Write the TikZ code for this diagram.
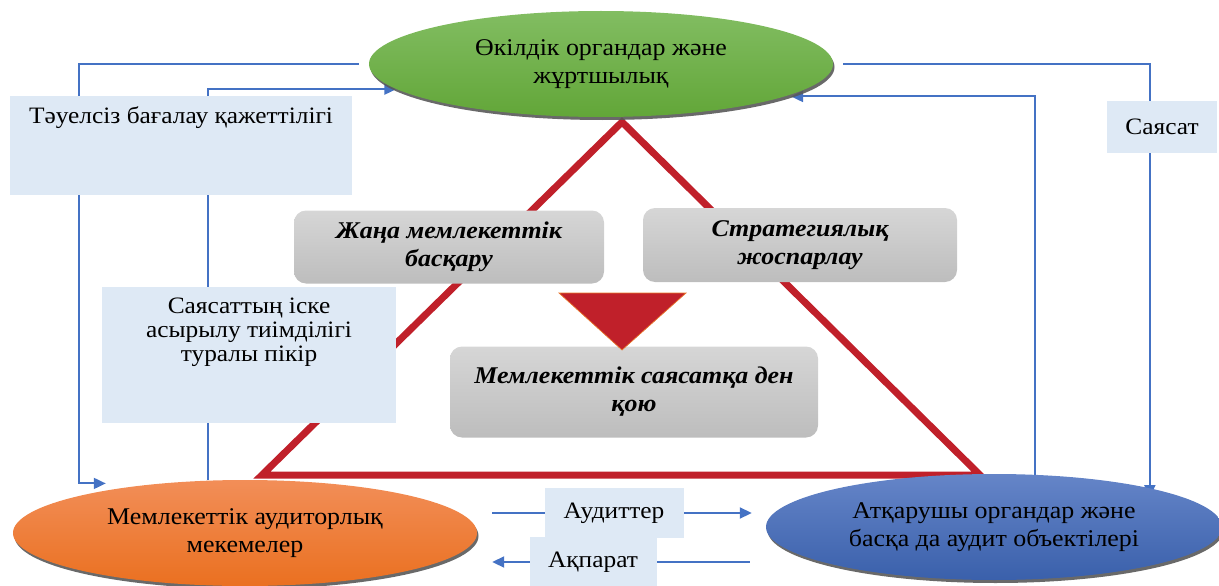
\documentclass[tikz,border=0pt]{standalone}
\usepackage{fontspec}
\setmainfont[FakeStretch=1.08]{Liberation Serif}
\usetikzlibrary{arrows.meta,positioning,calc,shapes.geometric,shadows,backgrounds}
\definecolor{linkblue}{HTML}{4472C4}
\definecolor{notebg}{HTML}{DEE9F5}
\definecolor{greentop}{HTML}{82BD62}
\definecolor{greenbot}{HTML}{62A638}
\definecolor{orangetop}{HTML}{F28E58}
\definecolor{orangebot}{HTML}{EA7020}
\definecolor{bluetop}{HTML}{6585C8}
\definecolor{bluebot}{HTML}{3A60AB}
\definecolor{paneltop}{HTML}{D6D6D6}
\definecolor{panelbot}{HTML}{BDBDBD}
\definecolor{redline}{HTML}{C0202A}
\definecolor{rededge}{HTML}{E8762B}

\begin{document}
\begin{tikzpicture}[x=1pt,y=-1pt,
  >={Triangle[length=12pt,width=11pt]},
  oval/.style={ellipse,minimum width=464pt,minimum height=106pt,align=center,
               font=\fontsize{24}{28.5}\selectfont,
               drop shadow={shadow xshift=1.5pt,shadow yshift=-3pt,fill=black!65,opacity=.9}},
  panel/.style={rounded corners=12pt,top color=paneltop,bottom color=panelbot,
                align=center,font=\fontsize{24}{28}\selectfont\bfseries\itshape},
  note/.style={fill=notebg,inner sep=0pt,align=center,font=\fontsize{23.5}{24}\selectfont},
  notetext/.style={inner sep=0pt,align=center,font=\fontsize{23.5}{24}\selectfont},
  link/.style={->,draw=linkblue,line width=1.9pt}
]
\useasboundingbox (0,0) rectangle (1219,586);

\node[oval,top color=greentop,bottom color=greenbot] (public) at (601,64) {Өкілдік органдар және\\жұртшылық};
\node[oval,top color=orangetop,bottom color=orangebot] (audit) at (245,533) {Мемлекеттік аудиторлық\\мекемелер};
\node[oval,top color=bluetop,bottom color=bluebot,minimum width=456pt] (exec) at (994,527) {Атқарушы органдар және\\басқа да аудит объектілері};

\node[panel,minimum width=310pt,minimum height=73pt] (npm) at (449,247) {Жаңа мемлекеттік\\басқару};
\node[panel,minimum width=314pt,minimum height=74pt] (plan) at (800,245) {Стратегиялық\\жоспарлау};
\node[panel,minimum width=368pt,minimum height=91pt] (react) at (634,392) {Мемлекеттік саясатқа ден\\қою};
\filldraw[fill=redline,draw=rededge,line width=.7pt] (559,293) -- (686,293) -- (622,350) -- cycle;

\node[note,minimum width=342pt,minimum height=99pt] (needbox) at (181,145.5) {};
\node[notetext,below=11pt of needbox.north] (needtxt) {Тәуелсіз бағалау қажеттілігі};
\node[note,minimum width=294pt,minimum height=136pt] (opinionbox) at (249,355) {};
\node[notetext,below=11pt of opinionbox.north] (opiniontxt) {Саясаттың іске\\асырылу тиімділігі\\туралы пікір};
\node[note,minimum width=110pt,minimum height=51pt] (policylbl) at (1162,127) {Саясат};
\node[note,minimum width=139pt,minimum height=50pt] (auditlbl) at (614,513) {Аудиттер};
\node[note,minimum width=127pt,minimum height=50pt] (infolbl) at (593,562) {Ақпарат};

\coordinate (leftrail) at (79,0);
\coordinate (tipA) at ($(audit.163)+(0,-7)$);

\begin{pgfonlayer}{background}
\draw[redline,line width=7pt,line join=miter] (622,122) -- (980,475) -- (262,475) -- cycle;
\draw[link] ([xshift=-10pt]public.west) -| (leftrail |- tipA) -- (tipA);
\draw[link] (audit.125) |- (public.187);
\draw[link] (exec.52.5) |- ([xshift=6pt]public.350);
\draw[link] ([xshift=10pt]public.east) -| ([yshift=-9pt]exec.14.5);
\draw[link] ($(audit.east |- auditlbl)+(15,0)$) -- ($(exec.west |- auditlbl)+(-14,0)$);
\draw[link] ($(exec.west |- infolbl)+(-16,0)$) -- ($(audit.east |- infolbl)+(15,0)$);
\end{pgfonlayer}
\end{tikzpicture}
\end{document}
